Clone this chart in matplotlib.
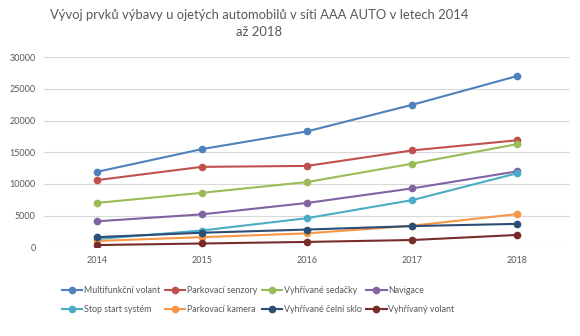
import numpy as np
import matplotlib.pyplot as plt

years = ['2014', '2015', '2016', '2017', '2018']

multifunkcni_volant = [11900, 15500, 18300, 22500, 27050]
parkovaci_senzory = [10600, 12700, 12850, 15300, 16900]
vyhrivane_sedacky = [7000, 8600, 10300, 13200, 16300]
navigace = [4100, 5200, 7000, 9300, 12000]
stop_start = [1300, 2650, 4600, 7450, 11700]
parkovaci_kamera = [1000, 1600, 2200, 3400, 5250]
vyhrivane_celni_sklo = [1600, 2300, 2800, 3350, 3700]
vyhrivany_volant = [350, 600, 850, 1150, 1950]

labels = ['Multifunkční volant', 'Parkovací senzory', 'Vyhřívané sedačky',
          'Navigace', 'Stop start systém', 'Parkovací kamera',
          'Vyhřívané čelní sklo', 'Vyhřívaný volant']
series = [multifunkcni_volant, parkovaci_senzory, vyhrivane_sedacky, navigace,
          stop_start, parkovaci_kamera, vyhrivane_celni_sklo, vyhrivany_volant]
colors = ['#4F81BD', '#C0504D', '#9BBB59', '#8064A2',
          '#4BACC6', '#F79646', '#2C4D75', '#772C2A']

plt.rcParams['font.family'] = ['Lato', 'DejaVu Sans']

fig = plt.figure(figsize=(5.8, 3.36), dpi=100)
ax = fig.add_axes([0.0759, 0.264, 0.907, 0.5655])

x = np.arange(len(years))
lines = []
for vals, lab, c in zip(series, labels, colors):
    ln, = ax.plot(x, vals, color=c, lw=1.5, marker='o', ms=4.5, label=lab)
    lines.append(ln)

ax.set_xlim(-0.5, len(years) - 0.5)
ax.set_ylim(0, 30000)
ax.set_yticks(np.arange(0, 30001, 5000))
ax.set_xticks(x)
ax.set_xticklabels(years)
ax.grid(axis='y', color='#D9D9D9', lw=0.8)
ax.set_axisbelow(True)
for s in ax.spines.values():
    s.set_visible(False)
ax.tick_params(length=0, labelsize=6.5, colors='#595959', pad=6)

fig.text(0.447, 0.972, 'Vývoj prvků výbavy u ojetých automobilů v síti AAA AUTO v letech 2014\naž 2018',
         ha='center', va='top', fontsize=9.4, color='#595959', linespacing=1.45)

# legend fills column by column, so interleave to get two rows of four
order = [0, 4, 1, 5, 2, 6, 3, 7]
fig.legend([lines[i] for i in order], [labels[i] for i in order],
           loc='center', bbox_to_anchor=(0.445, 0.107), ncol=4, frameon=False,
           fontsize=6.4, labelcolor='#595959', handlelength=2.3,
           handletextpad=0.2, columnspacing=0.5, labelspacing=1.2)

fig.savefig('out.png', dpi=100)
